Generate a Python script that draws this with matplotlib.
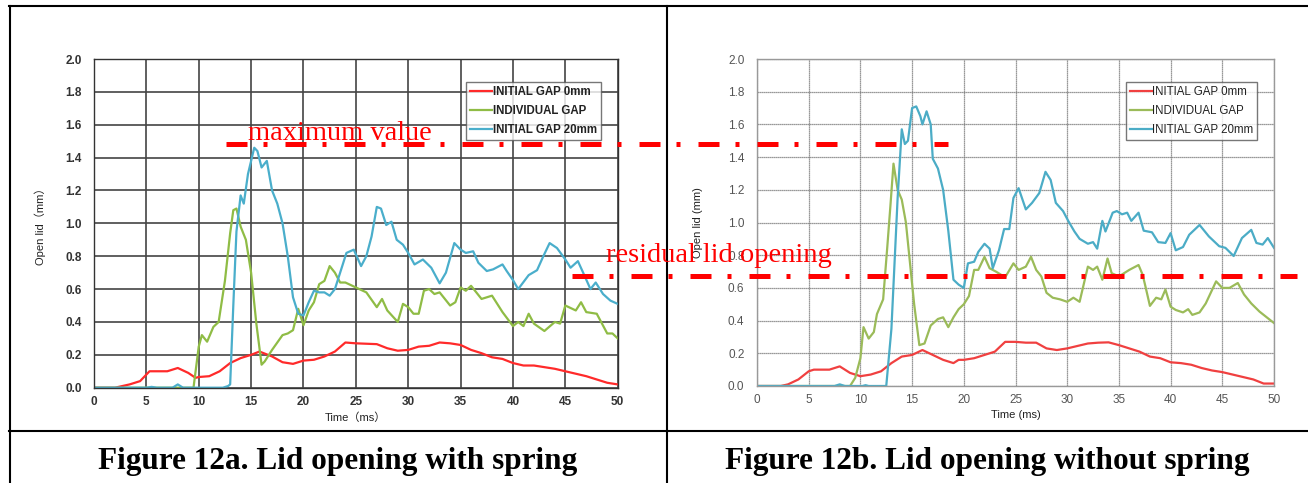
import matplotlib
matplotlib.use("Agg")
import matplotlib.pyplot as plt
from matplotlib.lines import Line2D

W, H = 1308, 483

# ---- data (time ms, open lid mm) ----
# Figure 12a: with spring
a_red_t = [0, 2, 3.4, 4.4, 5.3, 6, 7, 7.5, 8, 9, 9.7, 10, 11, 12, 13, 14, 15, 15.8, 17, 18,
           19, 20, 21, 22, 23, 24, 25, 27, 28, 29, 30, 31, 32, 33, 34, 35, 36, 37, 38, 39,
           40, 41, 42, 43, 44, 45, 46, 47, 48, 49, 50]
a_red_v = [0, 0, 0.02, 0.04, 0.10, 0.10, 0.10, 0.11, 0.12, 0.09, 0.06, 0.065, 0.07, 0.10, 0.15, 0.18, 0.20, 0.22, 0.19, 0.155,
           0.145, 0.165, 0.17, 0.19, 0.22, 0.275, 0.27, 0.265, 0.24, 0.225, 0.23, 0.25, 0.255, 0.275, 0.27, 0.26, 0.23, 0.21, 0.185, 0.175,
           0.15, 0.135, 0.135, 0.125, 0.115, 0.10, 0.085, 0.07, 0.05, 0.03, 0.02]

a_green_t = [0, 9.5, 10, 10.3, 10.8, 11.4, 11.9, 12.5, 13, 13.3, 13.6, 14, 14.5, 15, 15.5, 16, 16.3, 17, 18, 18.5,
             19, 19.5, 20, 20.5, 21, 21.5, 22, 22.5, 23, 23.5, 24, 25, 26, 27, 27.5, 28, 29, 29.5, 30, 30.5,
             31, 31.5, 32, 32.5, 33, 34, 34.5, 35, 35.5, 36, 37, 38, 39, 40, 40.5, 41, 41.5, 42, 43, 44,
             44.5, 45, 46, 46.5, 47, 48, 49, 49.5, 50]
a_green_v = [0, 0, 0.25, 0.32, 0.28, 0.37, 0.40, 0.65, 0.94, 1.08, 1.09, 0.98, 0.90, 0.70, 0.39, 0.14, 0.16, 0.23, 0.32, 0.33,
             0.35, 0.48, 0.38, 0.47, 0.52, 0.63, 0.65, 0.74, 0.70, 0.64, 0.64, 0.61, 0.58, 0.49, 0.54, 0.47, 0.40, 0.51, 0.49, 0.45,
             0.45, 0.59, 0.60, 0.57, 0.58, 0.50, 0.52, 0.61, 0.59, 0.62, 0.54, 0.56, 0.46, 0.375, 0.40, 0.375, 0.45, 0.39, 0.345, 0.40,
             0.39, 0.50, 0.47, 0.52, 0.46, 0.45, 0.33, 0.33, 0.30]

a_blue_t = [0, 5, 5.5, 6, 7.5, 8, 8.5, 9.5, 12.3, 12.8, 13, 13.3, 13.6, 14, 14.3, 14.7, 15.3, 15.6, 16, 16.5,
            17, 17.5, 18, 18.5, 19, 19.5, 20, 20.5, 21, 21.5, 22, 22.5, 23, 23.5, 24.1, 24.8, 25.5, 26, 26.5, 27,
            27.4, 27.9, 28.4, 28.9, 29.5, 30, 30.6, 31.4, 32.2, 33, 33.6, 34.4, 35, 35.5, 36.2, 36.7, 37.5, 38.1, 39, 39.4,
            40, 40.5, 41.5, 42.3, 42.9, 43.5, 44.2, 45, 45.5, 46.2, 46.7, 47.4, 47.9, 48.6, 49.3, 50]
a_blue_v = [0, 0, 0.005, 0, 0, 0.02, 0, 0, 0, 0.01, 0.02, 0.5, 0.95, 1.17, 1.12, 1.30, 1.46, 1.44, 1.34, 1.38,
            1.20, 1.12, 1.00, 0.80, 0.55, 0.45, 0.44, 0.52, 0.59, 0.58, 0.58, 0.56, 0.60, 0.70, 0.82, 0.84, 0.74, 0.80, 0.92, 1.10,
            1.09, 0.99, 1.01, 0.90, 0.87, 0.82, 0.75, 0.78, 0.73, 0.635, 0.70, 0.88, 0.84, 0.82, 0.83, 0.76, 0.71, 0.72, 0.75, 0.71,
            0.655, 0.60, 0.685, 0.715, 0.80, 0.88, 0.85, 0.78, 0.73, 0.77, 0.70, 0.60, 0.64, 0.57, 0.53, 0.51]

# Figure 12b: without spring
b_red_t = [0, 2.3, 3, 4, 5, 5.5, 7, 8, 8.5, 9, 10, 11, 12, 13, 14, 15, 16, 17, 18, 19,
           19.5, 20, 21, 22, 23, 24, 25, 26, 27, 28, 29, 30, 31, 32, 33, 34, 35, 36, 37, 38,
           39, 40, 41, 42, 43, 44, 45, 46, 47, 48, 49, 50]
b_red_v = [0, 0, 0.01, 0.04, 0.09, 0.10, 0.10, 0.12, 0.10, 0.08, 0.06, 0.07, 0.09, 0.14, 0.18, 0.19, 0.22, 0.19, 0.16, 0.14,
           0.16, 0.16, 0.17, 0.19, 0.21, 0.27, 0.27, 0.265, 0.265, 0.23, 0.22, 0.23, 0.245, 0.26, 0.265, 0.267, 0.25, 0.23, 0.21, 0.18,
           0.17, 0.145, 0.14, 0.13, 0.11, 0.095, 0.085, 0.07, 0.055, 0.04, 0.015, 0.015]

b_green_t = [0, 9, 9.5, 10, 10.3, 10.8, 11.3, 11.6, 12.2, 12.6, 12.9, 13.2, 13.6, 14, 14.4, 14.8, 15.2, 15.7, 16.2, 16.8,
             17.5, 18, 18.5, 19, 19.5, 20, 20.5, 21, 21.4, 22, 22.5, 23.1, 24, 24.8, 25.3, 26, 26.5, 27, 27.5, 28,
             28.6, 29.3, 30, 30.6, 31.2, 32, 32.5, 32.9, 33.4, 33.9, 34.3, 35, 36, 36.9, 37.3, 37.6, 38, 38.6, 39.1, 39.5,
             40, 40.5, 41.2, 41.7, 42.1, 42.8, 43.4, 44.4, 45, 45.7, 46.5, 47.1, 47.8, 48.6, 49.3, 50]
b_green_v = [0, 0, 0.05, 0.17, 0.36, 0.29, 0.33, 0.44, 0.53, 0.85, 1.10, 1.36, 1.20, 1.14, 1.00, 0.75, 0.50, 0.25, 0.26, 0.37,
             0.41, 0.42, 0.36, 0.42, 0.47, 0.50, 0.55, 0.71, 0.71, 0.79, 0.72, 0.70, 0.665, 0.75, 0.71, 0.73, 0.79, 0.71, 0.67, 0.57,
             0.54, 0.53, 0.515, 0.54, 0.515, 0.73, 0.71, 0.73, 0.65, 0.78, 0.69, 0.67, 0.71, 0.74, 0.68, 0.60, 0.49, 0.54, 0.53, 0.59,
             0.485, 0.465, 0.45, 0.47, 0.435, 0.45, 0.505, 0.64, 0.60, 0.60, 0.63, 0.56, 0.505, 0.455, 0.42, 0.385]

b_blue_t = [0, 7.5, 8, 8.5, 10.2, 10.5, 10.8, 12.5, 13, 13.3, 13.6, 14, 14.3, 14.6, 15, 15.4, 15.8, 16, 16.4, 16.8,
            17, 17.5, 18, 18.5, 19, 19.5, 20, 20.4, 21, 21.4, 22, 22.5, 22.8, 23.4, 23.9, 24.4, 24.8, 25.3, 26, 26.6,
            27.3, 27.9, 28.4, 28.9, 29.6, 30.1, 30.7, 31.2, 32, 32.5, 32.9, 33.4, 33.7, 34.4, 34.8, 35.3, 35.8, 36.2, 36.9, 37.4,
            38.2, 38.8, 39.5, 40, 40.5, 41.2, 41.8, 42.8, 43.7, 44.7, 45.3, 46.1, 46.9, 47.8, 48.3, 48.9, 49.4, 50]
b_blue_v = [0, 0, 0.01, 0, 0, 0.005, 0, 0, 0.35, 0.75, 1.15, 1.57, 1.48, 1.50, 1.70, 1.71, 1.65, 1.60, 1.68, 1.60,
            1.39, 1.33, 1.20, 0.95, 0.65, 0.62, 0.60, 0.75, 0.76, 0.82, 0.87, 0.84, 0.72, 0.83, 0.96, 0.96, 1.15, 1.21, 1.08, 1.12,
            1.18, 1.31, 1.26, 1.12, 1.07, 1.01, 0.945, 0.90, 0.87, 0.88, 0.84, 1.01, 0.945, 1.06, 1.07, 1.05, 1.06, 1.01, 1.06, 0.95,
            0.94, 0.88, 0.875, 0.935, 0.83, 0.85, 0.925, 0.985, 0.915, 0.855, 0.845, 0.795, 0.905, 0.955, 0.875, 0.865, 0.905, 0.845]

labels = ["INITIAL GAP 0mm", "INDIVIDUAL GAP", "INITIAL GAP 20mm"]
x_ticks = list(range(0, 51, 5))
y_ticks = [0.0, 0.2, 0.4, 0.6, 0.8, 1.0, 1.2, 1.4, 1.6, 1.8, 2.0]


def px(x):
    return x / W


def py(y):
    return 1 - y / H


fig = plt.figure(figsize=(W / 100, H / 100), dpi=100)
fig.patch.set_facecolor("white")


def panel(rect, series, colors, grid_style, spine_col, tick_col, weight, ylab, xlab, ypad):
    ax = fig.add_axes(rect)
    for (t, v), c, lab in zip(series, colors, labels):
        ax.plot(t, v, color=c, lw=1.6, label=lab, solid_joinstyle="round")
    ax.set_xlim(0, 50)
    ax.set_ylim(0, 2.0)
    ax.set_xticks(x_ticks)
    ax.set_yticks(y_ticks)
    ax.set_yticklabels([f"{y:.1f}" for y in y_ticks])
    ax.grid(True, **grid_style)
    ax.set_axisbelow(True)
    for s in ax.spines.values():
        s.set_color(spine_col)
        s.set_linewidth(1.0)
    ax.tick_params(length=0, labelsize=8.5, labelcolor=tick_col)
    ax.tick_params(axis="y", pad=9)
    ax.tick_params(axis="x", pad=6)
    for lb in ax.get_xticklabels() + ax.get_yticklabels():
        lb.set_fontweight(weight)
        lb.set_family("Liberation Sans")
    ax.set_ylabel(ylab, fontsize=8, color="#222", labelpad=ypad,
                  family=["Liberation Sans", "Noto Sans CJK JP"])
    ax.set_xlabel(xlab, fontsize=8, color="#222", labelpad=3,
                  family=["Liberation Sans", "Noto Sans CJK JP"])
    leg = ax.legend(loc="upper right", bbox_to_anchor=(0.968, 0.93), fontsize=8.3,
                    frameon=True, fancybox=False, handlelength=1.9, handletextpad=0.05,
                    labelspacing=0.62, borderpad=0.35, borderaxespad=0)
    leg.get_frame().set_edgecolor("#555")
    leg.get_frame().set_linewidth(1.0)
    for tx in leg.get_texts():
        tx.set_family("Liberation Sans")
        tx.set_color("#222")
        tx.set_fontweight(weight)
    return ax


panel([px(94), py(387.7), px(617.7) - px(94), (387.7 - 59) / H],
      [(a_red_t, a_red_v), (a_green_t, a_green_v), (a_blue_t, a_blue_v)],
      ["#ff2a2a", "#8fbc45", "#4aaecb"],
      dict(color="#444", lw=1.2, ls="-"), "#333", "#333", "bold",
      "Open lid（mm）", "Time（ms）", 14)

panel([px(757), py(386), px(1274) - px(757), (386 - 59) / H],
      [(b_red_t, b_red_v), (b_green_t, b_green_v), (b_blue_t, b_blue_v)],
      ["#f04040", "#9bbb59", "#4bacc6"],
      dict(color="#777", lw=0.9, ls=(0, (1, 0.6))), "#999", "#555", "normal",
      "Open lid (mm)", "Time (ms)", 18)

# table frame around the two figures
frame_kw = dict(color="black", lw=1.5, transform=fig.transFigure)
fig.add_artist(Line2D([px(9), 1], [py(6), py(6)], **frame_kw))
fig.add_artist(Line2D([px(9.5), px(9.5)], [py(6), 0], **frame_kw))
fig.add_artist(Line2D([px(666.5), px(666.5)], [py(6), 0], **frame_kw))
fig.add_artist(Line2D([px(9), 1], [py(431), py(431)], **frame_kw))

# red dash-dot annotation lines
dd = dict(color="red", lw=3.6, ls=(0, (4.2, 3.2, 0.8, 3.6)), transform=fig.transFigure,
          solid_capstyle="butt", dash_capstyle="butt")
fig.add_artist(Line2D([px(226), px(948)], [py(143.5), py(143.5)], **dd))
fig.add_artist(Line2D([px(572), px(1297)], [py(275.5), py(275.5)], **dd))
fig.text(px(248), py(140), "maximum value", color="red", fontsize=20.5,
         family="Liberation Serif", va="baseline", ha="left")
fig.text(px(606), py(262), "residual lid opening", color="red", fontsize=20.5,
         family="Liberation Serif", va="baseline", ha="left")

# captions
fig.text(px(338), py(461), "Figure 12a. Lid opening with spring", fontsize=22.5,
         family="Liberation Serif", weight="bold", ha="center", va="center")
fig.text(px(987), py(461), "Figure 12b. Lid opening without spring", fontsize=22.5,
         family="Liberation Serif", weight="bold", ha="center", va="center")

fig.savefig("out.png", dpi=100, facecolor="white")
